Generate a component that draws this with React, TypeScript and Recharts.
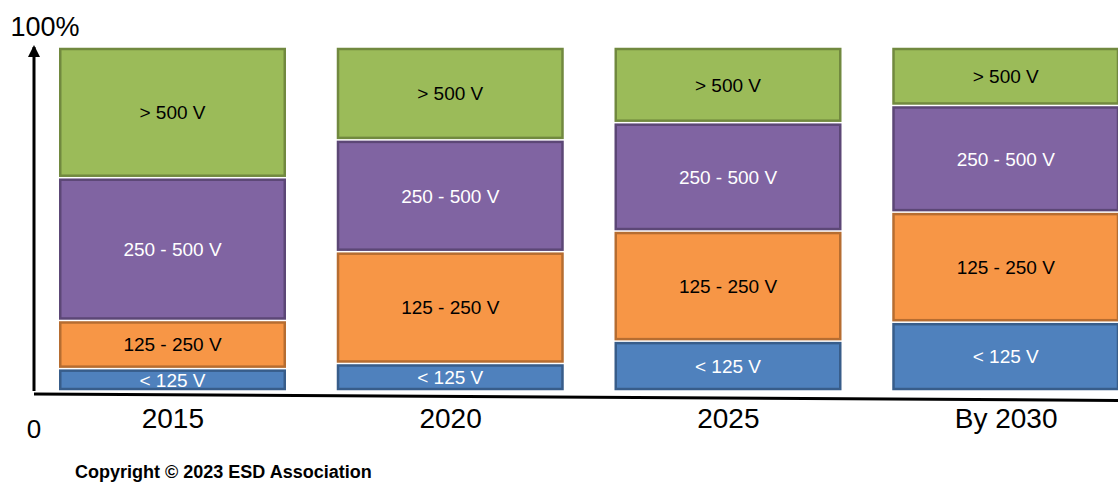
import React from 'react';
import { BarChart, Bar, XAxis, YAxis, LabelList } from 'recharts';

const categories = ['2015', '2020', '2025', 'By 2030'];
const under125 = [6.5, 8, 14.5, 20];
const from125to250 = [14, 32.5, 32, 32];
const from250to500 = [41.5, 32.5, 31.5, 31];
const over500 = [38, 27, 22, 17];
const yTicks = [0, 100];

const data = categories.map((year, i) => ({
  year,
  under125: under125[i],
  from125to250: from125to250[i],
  from250to500: from250to500[i],
  over500: over500[i],
}));

const FONT = '"Liberation Sans", Arial, Helvetica, sans-serif';

const series = [
  { key: 'under125', label: '< 125 V', fill: '#4F81BD', stroke: '#385D8A', text: '#FFFFFF' },
  { key: 'from125to250', label: '125 - 250 V', fill: '#F79646', stroke: '#B66D31', text: '#000000' },
  { key: 'from250to500', label: '250 - 500 V', fill: '#8064A2', stroke: '#5C4776', text: '#FFFFFF' },
  { key: 'over500', label: '> 500 V', fill: '#9BBB59', stroke: '#71893F', text: '#000000' },
];

// each stacked block is inset a little so the segments read as separate boxes
const Block = (props: any) => {
  const { x, y, width, height, fill, stroke } = props;
  if (!height || height <= 0) return null;
  return (
    <rect
      x={x + 1.25}
      y={y + 2}
      width={width - 2.5}
      height={height - 4}
      fill={fill}
      stroke={stroke}
      strokeWidth={2.5}
    />
  );
};

const YTick = (props: any) => {
  const { y, payload } = props;
  const axisX = 34;
  if (payload.value === 100) {
    return (
      <text x={axisX + 11} y={y - 11} textAnchor="middle" fontSize={27} fontFamily={FONT} fill="#000">
        100%
      </text>
    );
  }
  return (
    <text x={axisX} y={y + 47} textAnchor="middle" fontSize={26} fontFamily={FONT} fill="#000">
      0
    </text>
  );
};

export default function App() {
  return (
    <div style={{ position: 'absolute', left: 0, top: 0, width: 1118, height: 483, overflow: 'hidden', background: '#fff' }}>
      <svg width={0} height={0} style={{ position: 'absolute' }}>
        <defs>
          <marker
            id="axisArrow"
            viewBox="0 0 12 12"
            markerUnits="userSpaceOnUse"
            markerWidth={12}
            markerHeight={12}
            refX={10}
            refY={6}
            orient="auto-start-reverse"
          >
            <path d="M0,0 L12,6 L0,12 z" fill="#000" />
          </marker>
        </defs>
      </svg>
      <BarChart
        width={1145}
        height={483}
        data={data}
        margin={{ top: 47, right: 0, left: 24, bottom: 62 }}
        barSize={227}
      >
        <XAxis
          dataKey="year"
          height={30}
          tickLine={false}
          tickMargin={11}
          axisLine={{ stroke: '#000', strokeWidth: 3, transform: 'translate(0,3) rotate(0.34 34 391)' }}
          tick={{ fill: '#000', fontSize: 28, fontFamily: FONT }}
        />
        <YAxis
          width={10}
          domain={[0, 100]}
          ticks={yTicks}
          tickLine={false}
          axisLine={{ stroke: '#000', strokeWidth: 3, markerStart: 'url(#axisArrow)' }}
          tick={<YTick />}
        />
        {series.map((s) => (
          <Bar
            key={s.key}
            dataKey={s.key}
            stackId="share"
            fill={s.fill}
            stroke={s.stroke}
            shape={<Block />}
            isAnimationActive={false}
          >
            <LabelList
              dataKey={s.key}
              position="center"
              formatter={() => s.label}
              fill={s.text}
              fontSize={19}
              fontFamily={FONT}
            />
          </Bar>
        ))}
      </BarChart>
      <div
        style={{
          position: 'absolute',
          left: 75,
          top: 463,
          fontFamily: FONT,
          fontWeight: 'bold',
          fontSize: 18,
          lineHeight: '18px',
          color: '#000',
          whiteSpace: 'nowrap',
        }}
      >
        Copyright © 2023 ESD Association
      </div>
    </div>
  );
}
